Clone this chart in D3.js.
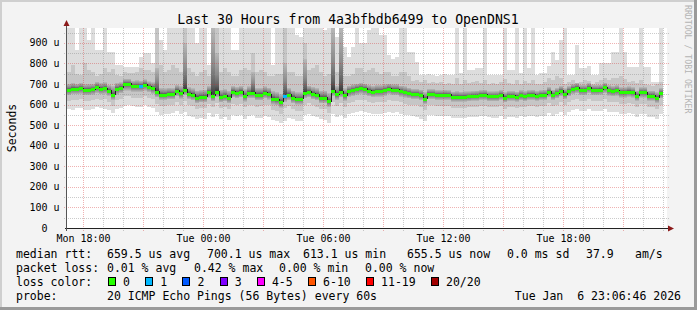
<!DOCTYPE html>
<html>
<head>
<meta charset="utf-8">
<script src="https://cdn.jsdelivr.net/npm/d3@7"></script>
<style>
  html, body { margin: 0; padding: 0; background: #f3f3f3; }
  svg { display: block; }
  text { font-family: "DejaVu Sans Mono", monospace; fill: #000; }
</style>
</head>
<body>
<svg id="chart" width="697" height="310"></svg>
<script>
// ---- data (one value per 12 minute column) ----
const titleText = "Last 30 Hours from 4a3bfbdb6499 to OpenDNS1";
const startTime = new Date(2026, 0, 5, 17, 12);
const endTime = new Date(2026, 0, 6, 23, 12);
const stepMinutes = 12;

const rttMedian = [
  671,677,677,680,671,671,674,685,677,680,
  668,647,676,682,700,700,690,690,690,697,
  687,680,661,648,648,651,651,667,655,672,
  653,648,634,638,638,660,643,663,638,643,
  634,663,657,663,642,657,657,647,648,657,
  651,629,625,613,642,648,634,627,627,657,
  663,653,647,634,634,615,668,650,663,645,
  665,670,676,680,676,668,663,666,666,670,
  677,672,672,665,660,655,651,651,645,627,
  651,651,647,647,647,647,638,638,638,638,
  640,642,642,647,647,640,640,640,647,634,
  642,642,638,645,640,647,647,642,647,647,
  661,647,655,666,651,666,676,681,671,671,
  681,671,671,673,683,669,665,669,659,659,
  663,659,643,659,659,643,643,633,655
];
// smoke: outer (first/last ping), middle and inner ping pairs
const rttMax = [
  975,975,865,975,975,914,975,865,865,975,
  857,857,792,792,784,784,784,784,830,849,
  849,800,975,914,865,975,975,975,975,975,
  975,975,900,975,975,792,975,975,975,975,
  975,865,865,975,975,975,975,975,975,975,
  975,792,975,975,975,975,975,940,930,975,
  975,975,975,975,960,975,975,930,975,880,
  830,880,975,900,900,960,975,975,940,940,
  840,820,830,975,975,856,856,809,744,744,
  750,744,740,744,750,744,744,975,755,975,
  768,768,778,778,975,744,744,744,744,975,
  768,768,975,755,975,778,975,744,755,755,
  788,857,817,914,975,744,744,890,778,778,
  788,744,744,802,802,802,857,857,975,857,
  784,784,784,975,784,784,711,711,975
];
const rttHi = [
  760,790,750,745,800,770,760,740,750,780,
  760,775,745,740,760,755,755,760,780,770,
  770,760,975,790,760,770,790,780,760,975,
  780,760,740,760,770,740,975,975,760,780,
  760,740,740,770,780,770,850,760,770,760,
  740,740,750,750,975,760,760,740,740,900,
  770,780,790,760,740,750,975,760,975,740,
  740,750,780,780,760,770,780,760,750,760,
  760,740,740,760,760,740,715,720,710,720,
  705,710,705,710,700,705,700,730,700,720,
  705,710,715,705,720,700,705,700,710,725,
  705,700,720,700,715,705,720,700,700,710,
  730,720,740,730,700,710,720,705,710,720,
  715,700,710,720,730,720,730,730,740,725,
  710,715,705,720,700,695,690,700,710
];
const rttUp = [
  700,705,700,705,698,700,700,710,705,708,
  695,690,705,708,725,725,715,718,715,722,
  712,708,780,680,678,682,680,695,690,900,
  685,678,668,670,672,690,975,850,672,675,
  668,690,685,690,675,688,760,680,680,688,
  682,665,660,650,800,680,668,660,660,820,
  692,685,680,668,668,655,975,690,975,678,
  692,698,702,705,702,695,690,694,694,698,
  702,698,698,692,688,682,676,676,672,660,
  675,675,670,670,672,670,662,665,662,664,
  664,666,668,670,672,664,664,665,670,660,
  666,666,662,670,665,670,672,666,670,672,
  685,672,680,690,678,690,700,705,695,695,
  705,695,695,697,706,694,690,694,684,684,
  688,684,668,684,684,668,668,660,680
];
const rttDown = [
  645,650,650,652,645,645,648,655,650,652,
  642,622,648,655,668,668,662,662,662,668,
  660,652,635,622,622,625,625,640,628,645,
  626,620,606,610,610,632,615,635,610,615,
  606,635,630,635,614,630,630,620,620,630,
  624,600,596,585,612,620,606,600,600,630,
  635,625,620,606,606,588,640,622,635,618,
  638,642,648,652,648,640,636,638,638,642,
  650,645,645,638,634,630,626,626,620,602,
  626,626,622,622,622,622,614,614,614,614,
  616,618,618,622,622,616,616,616,622,610,
  618,618,614,620,616,622,622,618,622,622,
  636,622,630,640,626,640,650,655,645,645,
  655,645,645,647,656,643,640,643,634,634,
  638,634,618,634,634,618,618,608,630
];
const rttLo = [
  615,620,622,625,615,618,620,628,622,625,
  612,595,620,628,640,640,632,632,632,640,
  630,625,605,592,592,596,596,612,600,615,
  598,592,578,582,582,605,588,608,582,588,
  578,605,600,605,586,600,600,590,592,600,
  596,572,568,556,585,592,578,570,570,600,
  606,596,590,578,578,560,610,594,606,590,
  608,614,620,624,620,612,606,610,610,614,
  620,616,616,610,605,600,596,596,590,572,
  598,598,592,592,592,592,584,584,584,584,
  586,588,588,592,592,586,586,586,592,580,
  588,588,584,590,586,592,592,588,592,592,
  606,592,600,610,596,610,620,626,616,616,
  626,616,616,618,628,614,610,614,604,604,
  608,604,588,604,604,588,588,578,600
];
const rttMin = [
  578,575,582,585,575,572,580,588,583,580,
  572,560,578,585,595,598,592,590,590,596,
  590,582,565,548,552,556,560,570,555,566,
  545,540,530,536,532,560,538,556,530,540,
  525,548,545,550,530,545,548,535,536,545,
  540,525,518,510,520,536,528,520,522,548,
  552,544,538,528,526,508,552,540,550,535,
  555,560,565,570,566,560,552,556,556,560,
  566,560,562,555,550,548,544,540,530,520,
  550,548,545,545,544,545,535,535,534,536,
  538,540,540,545,544,538,536,536,545,532,
  540,540,535,542,538,545,545,540,545,545,
  560,545,552,565,550,562,572,578,568,568,
  578,568,568,570,580,566,562,566,556,556,
  560,556,540,556,556,540,540,530,552
];
// columns that lost 1 of 20 pings (all others lost none)
const lossOneColumns = [18, 54];

const yTicks = [0, 100, 200, 300, 400, 500, 600, 700, 800, 900];
const yTickLabels = ["0", "100 u", "200 u", "300 u", "400 u", "500 u", "600 u", "700 u", "800 u", "900 u"];
const xTickTimes = [
  new Date(2026, 0, 5, 18), new Date(2026, 0, 6, 0), new Date(2026, 0, 6, 6),
  new Date(2026, 0, 6, 12), new Date(2026, 0, 6, 18)
];
const xTickLabels = ["Mon 18:00", "Tue 00:00", "Tue 06:00", "Tue 12:00", "Tue 18:00"];

const lossLabels = ["0", "1", "2", "3", "4-5", "6-10", "11-19", "20/20"];
const lossColors = ["#26ff00", "#00b8ff", "#0059ff", "#7e00ff", "#ff00ff", "#ff5500", "#ff0000", "#a10000"];
const rttStats = ["659.5 us avg", "700.1 us max", "613.1 us min", "655.5 us now", "0.0 ms sd", "37.9", "am/s"];
const lossStats = ["0.01 % avg", "0.42 % max", "0.00 % min", "0.00 % now"];
const probeText = "20 ICMP Echo Pings (56 Bytes) every 60s";
const stampText = "Tue Jan  6 23:06:46 2026";

// ---- layout ----
const W = 697, H = 310;
const plot = { left: 67, right: 667, top: 28, bottom: 228 };
const svg = d3.select("#chart");

svg.append("rect").attr("width", W).attr("height", H).attr("fill", "#f3f3f3");
svg.append("rect").attr("width", W).attr("height", 2).attr("fill", "#cfcfcf");
svg.append("rect").attr("width", 2).attr("height", H).attr("fill", "#cfcfcf");
svg.append("rect").attr("y", H - 3).attr("width", W).attr("height", 3).attr("fill", "#9a9a9a");
svg.append("rect").attr("x", W - 3).attr("width", 3).attr("height", H).attr("fill", "#9a9a9a");

const x = d3.scaleTime().domain([startTime, endTime]).range([plot.left, plot.right]);
const y = d3.scaleLinear().domain([0, 972]).range([plot.bottom, plot.top]);

svg.append("rect")
  .attr("x", plot.left).attr("y", plot.top)
  .attr("width", plot.right - plot.left).attr("height", plot.bottom - plot.top)
  .attr("fill", "#fff");

const defs = svg.append("defs");
defs.append("clipPath").attr("id", "plotClip")
  .append("rect")
  .attr("x", plot.left).attr("y", plot.top)
  .attr("width", plot.right - plot.left).attr("height", plot.bottom - plot.top);

function grad(id, stops) {
  const g = defs.append("linearGradient").attr("id", id)
    .attr("x1", 0).attr("y1", 0).attr("x2", 0).attr("y2", 1);
  stops.forEach(([o, c]) => g.append("stop").attr("offset", o).attr("stop-color", c));
}
grad("smokeUp", [[0, "#b8b8b8"], [0.55, "#8a8a8a"], [0.85, "#606060"], [1, "#383838"]]);
grad("smokeDown", [[0, "#383838"], [0.15, "#606060"], [0.45, "#8a8a8a"], [1, "#b8b8b8"]]);

const columns = rttMedian.map((m, i) => ({
  i,
  t0: d3.timeMinute.offset(startTime, i * stepMinutes),
  t1: d3.timeMinute.offset(startTime, (i + 1) * stepMinutes),
  median: m,
  loss: lossOneColumns.includes(i) ? 1 : 0
}));

const data = svg.append("g").attr("clip-path", "url(#plotClip)").attr("shape-rendering", "crispEdges");

function band(lo, hi, fill) {
  data.append("g").selectAll("rect")
    .data(columns)
    .join("rect")
    .attr("x", d => x(d.t0))
    .attr("width", d => x(d.t1) - x(d.t0))
    .attr("y", d => y(hi[d.i]))
    .attr("height", d => Math.max(0, y(lo[d.i]) - y(hi[d.i])))
    .attr("fill", fill);
}
band(rttMin, rttMax, "#dddddd");
band(rttLo, rttHi, "#c6c6c6");
band(rttMedian, rttUp, "url(#smokeUp)");
band(rttDown, rttMedian, "url(#smokeDown)");

// grid on top of the smoke
const grid = svg.append("g").attr("shape-rendering", "crispEdges");
const hLines = d3.range(0, 972, 50).filter(v => v > 0);
grid.selectAll(".hgrid")
  .data(hLines)
  .join("line")
  .attr("x1", plot.left - 3).attr("x2", plot.right + 2)
  .attr("y1", v => Math.round(y(v)) + 0.5).attr("y2", v => Math.round(y(v)) + 0.5)
  .attr("stroke", v => v % 100 === 0 ? "#d42a2a" : "#8c8c8c")
  .attr("stroke-opacity", v => v % 100 === 0 ? 0.36 : 0.45)
  .attr("stroke-dasharray", "1,1");

const hours = d3.timeHour.range(startTime, endTime);
grid.selectAll(".vgrid")
  .data(hours)
  .join("line")
  .attr("x1", t => Math.round(x(t)) + 0.5).attr("x2", t => Math.round(x(t)) + 0.5)
  .attr("y1", plot.top).attr("y2", plot.bottom + 3)
  .attr("stroke", t => t.getHours() % 3 === 0 ? "#d42a2a" : "#8c8c8c")
  .attr("stroke-opacity", t => t.getHours() % 3 === 0 ? 0.36 : 0.45)
  .attr("stroke-dasharray", "1,1");

// median: dark step line plus loss-coloured bars
const stepPts = columns.map(d => [x(d.t0), y(d.median)]);
const lastCol = columns[columns.length - 1];
stepPts.push([x(lastCol.t1), y(lastCol.median)]);
svg.append("path")
  .attr("d", d3.line().curve(d3.curveStepAfter)(stepPts))
  .attr("fill", "none")
  .attr("stroke", "#202020")
  .attr("stroke-width", 1)
  .attr("shape-rendering", "crispEdges");

svg.append("g").attr("shape-rendering", "crispEdges")
  .selectAll("rect")
  .data(columns)
  .join("rect")
  .attr("x", d => x(d.t0))
  .attr("width", d => x(d.t1) - x(d.t0))
  .attr("y", d => Math.round(y(d.median)) - 1)
  .attr("height", 3)
  .attr("fill", d => lossColors[d.loss]);

// axes
const axisG = svg.append("g").attr("shape-rendering", "crispEdges");
axisG.append("line")
  .attr("x1", plot.left - 2).attr("x2", plot.right + 3)
  .attr("y1", plot.bottom + 0.5).attr("y2", plot.bottom + 0.5)
  .attr("stroke", "#222");
axisG.append("line")
  .attr("x1", plot.left - 0.5).attr("x2", plot.left - 0.5)
  .attr("y1", plot.bottom + 3).attr("y2", plot.top - 4)
  .attr("stroke", "#555");
svg.append("path")
  .attr("d", `M${plot.right + 1},${plot.bottom - 2.5}L${plot.right + 7},${plot.bottom + 0.5}L${plot.right + 1},${plot.bottom + 3.5}Z`)
  .attr("fill", "#8b1a1a");
svg.append("path")
  .attr("d", `M${plot.left - 3.5},${plot.top - 2}L${plot.left - 0.5},${plot.top - 8}L${plot.left + 2.5},${plot.top - 2}Z`)
  .attr("fill", "#8b1a1a");

// y tick labels
svg.append("g").selectAll("text")
  .data(yTicks)
  .join("text")
  .attr("x", 44.5)
  .attr("y", v => y(v) + 3.6)
  .attr("text-anchor", "middle")
  .attr("font-size", "10px")
  .text((v, i) => yTickLabels[i]);

// x tick labels
const xAxis = d3.axisBottom(x)
  .tickValues(xTickTimes)
  .tickSize(0)
  .tickPadding(0)
  .tickFormat((t, i) => xTickLabels[i]);
const xg = svg.append("g").attr("transform", `translate(0,${plot.bottom})`).call(xAxis);
xg.select(".domain").remove();
xg.selectAll("text")
  .attr("dy", null)
  .attr("y", 13.5)
  .attr("font-size", "10px")
  .attr("font-family", "DejaVu Sans Mono")
  .attr("fill", "#000");

// title, axis label, watermark
svg.append("text")
  .attr("x", 348).attr("y", 23.5)
  .attr("text-anchor", "middle")
  .attr("font-size", "13.2px")
  .text(titleText);

svg.append("text")
  .attr("transform", `translate(15.5,${(plot.top + plot.bottom) / 2}) rotate(-90)`)
  .attr("text-anchor", "middle")
  .attr("font-size", "11.5px")
  .text("Seconds");

svg.append("text")
  .attr("transform", "translate(685,5) rotate(90)")
  .attr("font-size", "8.2px")
  .style("fill", "#b4b4b4")
  .text("RRDTOOL / TOBI OETIKER");

// legend
const legend = svg.append("g").attr("font-size", "11.5px");
function put(xp, yp, s) {
  return legend.append("text").attr("x", xp).attr("y", yp).attr("xml:space", "preserve").text(s);
}
const rows = [257.5, 271.5, 285.5, 299.5];

put(16, rows[0], "median rtt:");
[107, 207, 303, 407, 507, 586, 635].forEach((xp, i) => put(xp, rows[0], rttStats[i]));

put(16, rows[1], "packet loss:");
[107, 194, 279, 365].forEach((xp, i) => put(xp, rows[1], lossStats[i]));

put(16, rows[2], "loss color:");
let bx = 108;
lossLabels.forEach((lab, i) => {
  legend.append("rect")
    .attr("x", bx + 0.5).attr("y", rows[2] - 8)
    .attr("width", 7).attr("height", 8)
    .attr("fill", lossColors[i])
    .attr("stroke", "#000")
    .attr("shape-rendering", "crispEdges");
  const t = put(bx + 15, rows[2], lab);
  bx = bx + 15 + t.node().getComputedTextLength() + 15.3;
});

put(16, rows[3], "probe:");
put(107, rows[3], probeText);
put(681, rows[3], stampText).attr("text-anchor", "end");
</script>
</body>
</html>
